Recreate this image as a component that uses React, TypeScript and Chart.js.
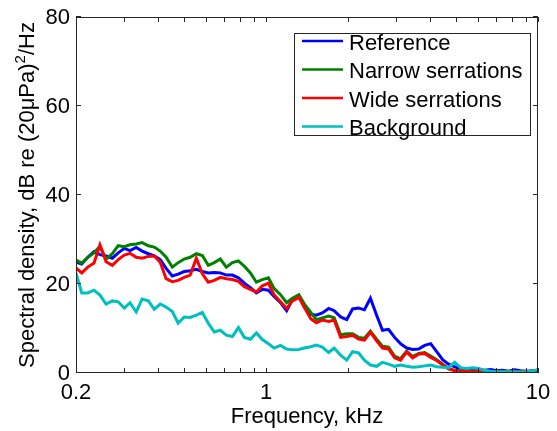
import { useEffect, useRef } from 'react';
import { Chart, registerables } from 'chart.js';

Chart.register(...registerables);

// Frequency grid (kHz), log-spaced from 0.2 to 10
const freqKHz = [
  0.2, 0.21, 0.221, 0.233, 0.245, 0.258, 0.272, 0.286, 0.301, 0.316,
  0.333, 0.35, 0.369, 0.388, 0.408, 0.429, 0.452, 0.475, 0.5, 0.526,
  0.554, 0.583, 0.613, 0.645, 0.679, 0.714, 0.752, 0.791, 0.832, 0.876,
  0.921, 0.969, 1.02, 1.07, 1.13, 1.19, 1.25, 1.32, 1.38, 1.46,
  1.53, 1.61, 1.7, 1.78, 1.88, 1.98, 2.08, 2.19, 2.3, 2.42,
  2.55, 2.68, 2.82, 2.97, 3.12, 3.29, 3.46, 3.64, 3.83, 4.03,
  4.24, 4.46, 4.69, 4.94, 5.19, 5.46, 5.75, 6.05, 6.36, 6.7,
  7.04, 7.41, 7.8, 8.21, 8.63, 9.08, 9.56, 10,
];

const reference = [
  24.9, 24.5, 26.0, 27.3, 26.6, 26.3, 25.8, 27.0, 28.0, 27.5,
  28.2, 27.4, 26.8, 26.3, 25.5, 23.5, 21.8, 22.2, 22.8, 23.0,
  23.3, 22.8, 22.5, 22.6, 22.5, 22.0, 22.0, 21.4, 20.2, 19.2,
  18.0, 18.8, 18.6, 17.2, 15.8, 14.0, 16.5, 17.3, 15.2, 13.2,
  13.0, 13.5, 14.5, 14.0, 12.6, 12.0, 14.4, 14.6, 14.2, 16.8,
  13.0, 9.6, 9.8, 8.0, 6.6, 5.6, 5.3, 5.4, 6.2, 6.6,
  4.8, 3.0, 2.0, 1.4, 1.0, 0.8, 0.6, 0.7, 0.6, 0.8,
  0.5, 0.6, 0.4, 0.7, 0.5, 0.4, 0.5, 0.4,
];

const narrowSerrations = [
  25.4, 24.7, 26.0, 27.0, 28.5, 25.6, 26.8, 28.6, 28.4, 28.8,
  29.0, 29.3, 28.6, 28.3, 27.4, 26.0, 23.8, 24.8, 25.6, 26.0,
  26.8, 26.4, 24.2, 24.8, 25.6, 23.8, 24.8, 25.2, 24.0, 22.5,
  20.4, 21.0, 21.4, 19.0, 17.6, 15.8, 16.8, 17.6, 15.6, 13.6,
  12.0, 12.4, 12.8, 12.4, 8.6, 8.8, 8.8, 8.0, 7.8, 9.4,
  7.6, 6.0, 5.8, 3.8, 3.2, 4.9, 3.7, 4.4, 4.6, 3.8,
  3.0, 2.0, 1.0, 0.6, 0.5, 0.4, 0.4, 0.3, 0.4, 0.3,
  0.3, 0.4, 0.3, 0.3, 0.3, 0.3, 0.3, 0.3,
];

const wideSerrations = [
  23.6, 22.5, 23.8, 24.7, 28.8, 25.0, 24.2, 25.5, 26.5, 26.9,
  26.0, 25.8, 26.2, 26.3, 24.9, 21.2, 20.5, 20.8, 21.5, 22.0,
  25.8, 22.3, 20.4, 20.8, 21.5, 21.2, 21.0, 20.6, 19.4, 18.8,
  18.2, 19.6, 20.2, 17.6, 16.0, 14.5, 16.2, 17.0, 14.8, 12.2,
  11.3, 11.9, 11.6, 11.9, 8.0, 8.2, 8.5, 7.6, 7.4, 9.2,
  7.2, 5.6, 5.4, 3.4, 2.9, 4.7, 3.4, 4.2, 4.4, 3.5,
  2.8, 1.8, 0.9, 0.5, 0.4, 0.4, 0.3, 0.3, 0.4, 0.3,
  0.3, 0.3, 0.3, 0.3, 0.3, 0.3, 0.3, 0.4,
];

const background = [
  22.5, 18.0, 18.0, 18.6, 17.5, 15.5, 16.2, 16.0, 14.6, 15.8,
  13.7, 16.6, 16.2, 14.3, 15.5, 14.8, 13.8, 11.2, 12.6, 12.5,
  13.0, 13.6, 11.2, 9.2, 9.6, 8.5, 8.2, 10.2, 8.0, 7.6,
  9.0, 7.5, 6.6, 5.6, 6.2, 5.4, 5.2, 5.3, 5.6, 5.9,
  6.3, 5.8, 4.6, 5.6, 4.0, 2.9, 4.8, 4.5, 2.9, 1.8,
  1.5, 2.4, 2.0, 1.5, 1.8, 1.5, 1.3, 1.4, 1.6, 1.8,
  1.4, 1.3, 1.2, 2.4, 1.2, 1.0, 1.2, 1.0, 0.6, 0.4,
  0.3, 0.3, 0.3, 0.3, 0.2, 0.3, 0.4, 0.8,
];

const seriesNames = ['Reference', 'Narrow serrations', 'Wide serrations', 'Background'];
const seriesColors = ['#0000ff', '#008000', '#ff0000', '#00bfbf'];
const seriesValues = [reference, narrowSerrations, wideSerrations, background];

const xTickValues = [0.2, 0.3, 0.4, 0.5, 0.6, 0.7, 0.8, 0.9, 1, 2, 3, 4, 5, 6, 7, 8, 9, 10];
const xTickLabels = ['0.2', '1', '10'];
const xLabelValues = [0.2, 1, 10];
const yTickValues = [0, 20, 40, 60, 80];
const yTickLabels = ['0', '20', '40', '60', '80'];

const xTitle = 'Frequency, kHz';
const yTitleMain = 'Spectral density, dB re (20\u03bcPa)';
const yTitleSup = '2';
const yTitleEnd = '/Hz';

const FONT = "'Liberation Sans', Arial, sans-serif";

const decorPlugin = {
  id: 'matlabDecor',
  afterDatasetsDraw(chart: any) {
    const ctx = chart.ctx as CanvasRenderingContext2D;
    const { left, right, top, bottom } = chart.chartArea;
    const xs = chart.scales.x;
    const ys = chart.scales.y;
    ctx.save();

    // axes box
    ctx.strokeStyle = '#262626';
    ctx.lineWidth = 1;
    ctx.strokeRect(Math.round(left) + 0.5, Math.round(top) + 0.5, Math.round(right - left) - 1, Math.round(bottom - top) - 1);

    // ticks (inside)
    const tl = 5;
    ctx.beginPath();
    xTickValues.forEach((v) => {
      const px = Math.round(xs.getPixelForValue(v)) + 0.5;
      ctx.moveTo(px, bottom);
      ctx.lineTo(px, bottom - tl);
      ctx.moveTo(px, top);
      ctx.lineTo(px, top + tl);
    });
    yTickValues.forEach((v) => {
      const py = Math.round(ys.getPixelForValue(v)) - 0.5;
      ctx.moveTo(left, py);
      ctx.lineTo(left + tl, py);
      ctx.moveTo(right, py);
      ctx.lineTo(right - tl, py);
    });
    ctx.stroke();

    // tick labels
    ctx.fillStyle = '#000';
    ctx.font = `22px ${FONT}`;
    ctx.textBaseline = 'alphabetic';
    ctx.textAlign = 'center';
    xLabelValues.forEach((v, i) => {
      ctx.fillText(xTickLabels[i], xs.getPixelForValue(v), 398.5);
    });
    ctx.textAlign = 'right';
    ctx.textBaseline = 'middle';
    yTickValues.forEach((v, i) => {
      ctx.fillText(yTickLabels[i], left - 6, ys.getPixelForValue(v) + 1);
    });

    // x title
    ctx.textAlign = 'center';
    ctx.textBaseline = 'alphabetic';
    ctx.fillText(xTitle, (left + right) / 2, 423);

    // y title with superscript
    ctx.font = `22px ${FONT}`;
    const w1 = ctx.measureText(yTitleMain).width;
    const w3 = ctx.measureText(yTitleEnd).width;
    ctx.font = `15px ${FONT}`;
    const w2 = ctx.measureText(yTitleSup).width;
    const total = w1 + w2 + w3;
    ctx.save();
    ctx.translate(34, (top + bottom) / 2);
    ctx.rotate(-Math.PI / 2);
    ctx.textAlign = 'left';
    ctx.textBaseline = 'alphabetic';
    let x0 = -total / 2;
    ctx.font = `22px ${FONT}`;
    ctx.fillText(yTitleMain, x0, 0);
    x0 += w1;
    ctx.font = `15px ${FONT}`;
    ctx.fillText(yTitleSup, x0, -9);
    x0 += w2;
    ctx.font = `22px ${FONT}`;
    ctx.fillText(yTitleEnd, x0, 0);
    ctx.restore();

    // legend
    const bx = 294.5, by = 33.5, bw = 236, bh = 102;
    ctx.fillStyle = '#fff';
    ctx.fillRect(bx, by, bw, bh);
    ctx.strokeStyle = '#262626';
    ctx.lineWidth = 1;
    ctx.strokeRect(bx, by, bw, bh);
    ctx.font = `22px ${FONT}`;
    ctx.textAlign = 'left';
    ctx.textBaseline = 'alphabetic';
    seriesNames.forEach((name, i) => {
      const ly = 41 + i * 28.5;
      ctx.strokeStyle = seriesColors[i];
      ctx.lineWidth = 2.5;
      ctx.beginPath();
      ctx.moveTo(302, ly);
      ctx.lineTo(343, ly);
      ctx.stroke();
      ctx.fillStyle = '#000';
      ctx.fillText(name, 349, ly + 8.5);
    });
    ctx.restore();
  },
};

export default function App() {
  const canvasRef = useRef<HTMLCanvasElement | null>(null);

  useEffect(() => {
    const canvas = canvasRef.current;
    if (!canvas) return;
    const chart = new Chart(canvas, {
      type: 'line',
      data: {
        datasets: seriesValues.map((vals, i) => ({
          label: seriesNames[i],
          data: freqKHz.map((f, j) => ({ x: f, y: vals[j] })),
          borderColor: seriesColors[i],
          backgroundColor: seriesColors[i],
          borderWidth: 3,
          pointRadius: 0,
          fill: false,
          tension: 0,
          borderJoinStyle: 'miter',
          order: 4 - i,
        })),
      },
      options: {
        animation: false,
        responsive: false,
        maintainAspectRatio: false,
        devicePixelRatio: 1,
        layout: { padding: { left: 76, right: 19, top: 17, bottom: 58 } },
        plugins: { legend: { display: false }, tooltip: { enabled: false } },
        scales: {
          x: { type: 'logarithmic', min: 0.2, max: 10, display: false },
          y: { type: 'linear', min: 0, max: 80, display: false },
        },
      },
      plugins: [decorPlugin],
    });
    return () => chart.destroy();
  }, []);

  return (
    <div style={{ position: 'fixed', left: 0, top: 0, width: 557, height: 431, background: '#fff' }}>
      <canvas ref={canvasRef} width={557} height={431} style={{ width: 557, height: 431, display: 'block' }} />
    </div>
  );
}
